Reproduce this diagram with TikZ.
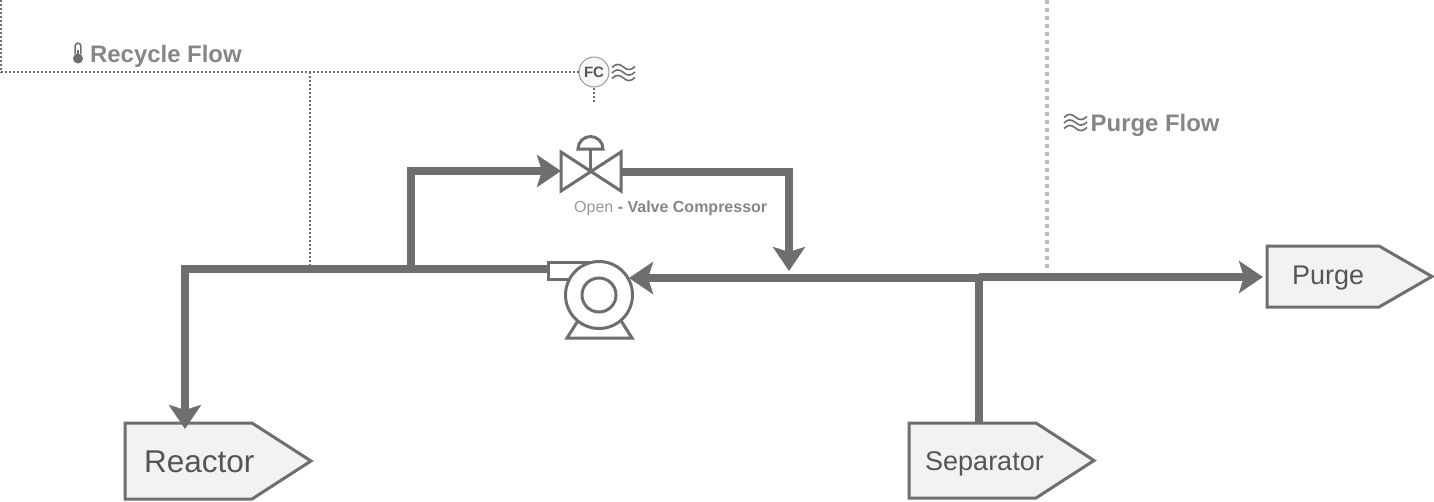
\documentclass[tikz,border=0pt]{standalone}
\usepackage{fontspec}
\setmainfont{Liberation Sans}
\usetikzlibrary{arrows.meta}
\definecolor{pipe}{HTML}{6E6E6E}
\definecolor{boxfill}{HTML}{F1F3F2}
\definecolor{boxtext}{HTML}{555555}
\definecolor{lab}{HTML}{868686}
\definecolor{labl}{HTML}{9A9A9A}
\definecolor{dotg}{HTML}{BDBDBD}
\newcommand{\fsz}[1]{\fontsize{#1}{#1}\selectfont}
\tikzset{
  x=1pt,y=-1pt,
  pipeline/.style={draw=pipe,line width=7.5pt,line join=miter},
  flow/.style={pipeline,-{Stealth[length=24pt,width=32pt,inset=5pt]}},
  sigbox/.style={draw=pipe,line width=3pt,fill=boxfill,inner sep=0pt},
  boxlabel/.style={text=boxtext,inner sep=0pt,anchor=base west},
  equip/.style={draw=pipe,line width=3pt,line join=miter,fill=white},
  signalline/.style={draw=pipe,line width=1.5pt,dash pattern=on 2pt off 2pt},
  purgeline/.style={draw=dotg,line width=4pt,dash pattern=on 4pt off 4pt},
  flowlabel/.style={text=lab,inner sep=0pt,anchor=base west,font=\bfseries\fsz{23.9}},
  wave/.style={draw=pipe,line width=1.6pt},
}
\newcommand{\sigshape}[7]{% name, left, top, corner, tip, bottom, entry x
  \draw[sigbox] (#2,#3) -- (#4,#3) -- (#5,{(#3+#6)/2}) -- (#4,#6) -- (#2,#6) -- cycle;
  \coordinate (#1) at ({(#2+#5)/2},{(#3+#6)/2});
  \coordinate (#1 top) at (#7,#3);
}
\newcommand{\wavesat}[2]{% x, y
  \begin{scope}[shift={(#1,#2)}]
  \foreach \d in {0,5.5,11}{
    \draw[wave] (0,\d+3) .. controls (4,\d-1) and (7,\d-1) .. (11.5,\d+2.5)
       .. controls (15,\d+6) and (19,\d+6) .. (23,\d+2);
  }
  \end{scope}
}
\begin{document}
\begin{tikzpicture}
\useasboundingbox (0,0) rectangle (1434,501);
\fill[white] (0,0) rectangle (1434,501);

% dotted signal lines
\coordinate (cornerA) at (1,0);
\coordinate (cornerB) at (1,72);
\coordinate (tapS) at (310,72);
\coordinate (tapE) at (310,265);
\coordinate (fcdown) at (594,103);
\node[circle,draw=pipe!70,fill=boxfill!60,line width=1pt,minimum size=30pt,inner sep=0pt,font=\bfseries\fsz{15},text=boxtext] (fc) at (594,72) {FC};
\draw[signalline] (cornerA) -- (cornerB) -- (fc.west);
\draw[signalline] (tapS) -- (tapE);
\draw[signalline] (fc.south) -- (fcdown);
\coordinate (purgeS) at (1047,0);
\coordinate (purgeE) at (1047,268);
\draw[purgeline] (purgeS) -- (purgeE);

% boxes
\sigshape{reactor}{125}{423}{252}{311}{499}{185}
\sigshape{separator}{909}{423}{1036}{1094}{498}{979}
\sigshape{purge}{1267}{246}{1379}{1432}{307}{1267}
\node[boxlabel,font=\fsz{31.5}] (reactorlab) at (144,472) {Reactor};
\node[boxlabel,font=\fsz{27}] (separatorlab) at (925,470) {Separator};
\node[boxlabel,font=\fsz{27}] (purgelab) at (1292,284) {Purge};

% junctions
\coordinate (pumpout) at (550,269);
\coordinate (bendA) at (185,269);
\coordinate (jA) at (411,269);
\coordinate (bendB) at (411,171);
\coordinate (valveL) at (561,171);
\coordinate (valveR) at (621,172);
\coordinate (bendC) at (789,172);
\coordinate (jC) at (789,271);
\coordinate (jS) at (983,278);
\coordinate (pumpin) at (629,278);
\coordinate (reactorin) at (185,429);
\coordinate (purgejoin) at (979,277);
\coordinate (purgein) at (1263,277);

% pipes
\draw[flow] (pumpout) -- (bendA) -- (reactorin);
\draw[flow] (jA) -- (bendB) -- (valveL);
\draw[flow] (valveR) -- (bendC) -- (jC);
\draw[flow] (jS) -- (pumpin);
\draw[flow] (purgejoin) -- (purgein);
\draw[pipeline] (separator top) -- (purgejoin);

% valve
\coordinate (valve) at (591,171);
\draw[equip] (561,152) -- (621,191) -- (621,152) -- (561,191) -- cycle;
\draw[pipe,line width=3pt] (590,171) -- (590,149);
\draw[equip] (578,149) arc[start angle=180,end angle=360,radius=12.5] -- cycle;
\node[inner sep=0pt,anchor=base west,font=\fsz{16},text=labl] (valvelab) at (574,212) {Open {\color{lab}\bfseries - Valve Compressor}};

% pump
\draw[equip] (567,338) -- (581,316) -- (618,316) -- (632,338) -- cycle;
\draw[equip] (548,262) -- (590,262) -- (590,279) -- (548,279) -- cycle;
\node[circle,equip,minimum size=67pt,inner sep=0pt] (pump) at (599,295) {};
\node[circle,equip,minimum size=34pt,inner sep=0pt] (pumpcore) at (599,295) {};

% labels
\draw[pipe,line width=1.5pt] (75.2,54) -- (75.2,46) arc[start angle=180,end angle=360,radius=2.8] -- (80.8,54);
\fill[pipe] (78,58.5) circle[radius=5];
\fill[pipe] (76.8,50) rectangle (79.2,56);
\node[flowlabel] (recycle) at (90,62) {Recycle Flow};
\node[flowlabel] (purgeflow) at (1090.5,131) {Purge Flow};
\wavesat{612}{64.5}
\wavesat{1064}{114.5}
\end{tikzpicture}
\end{document}
